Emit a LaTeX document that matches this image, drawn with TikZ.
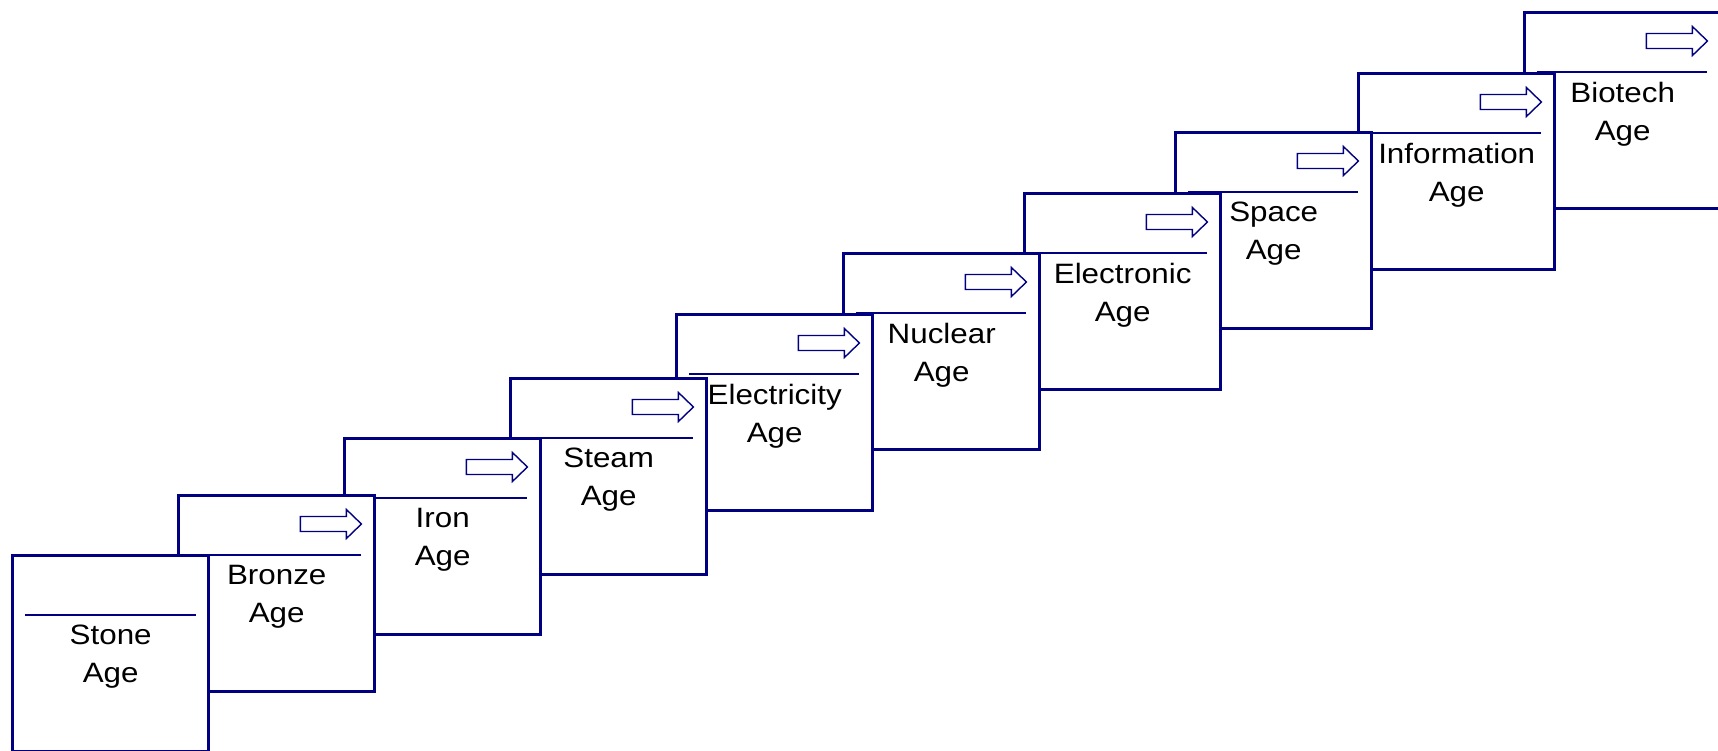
\documentclass[tikz,border=0pt]{standalone}
\usepackage{fontspec}
\setmainfont{Liberation Sans}[FakeStretch=1.12]
\usepackage{xcolor}
\usetikzlibrary{calc}
\definecolor{agenavy}{RGB}{0,0,128}

\begin{document}
\begin{tikzpicture}[x=0.5pt, y=-0.5pt,
    agebox/.style={draw=agenavy, line width=1.7pt, fill=white, anchor=north west, minimum width=98pt, minimum height=98pt, inner sep=0pt},
    ageline/.style={draw=agenavy, line width=0.7pt},
    agearrow/.style={draw=agenavy, line width=0.7pt, fill=white},
    agetext/.style={align=center, font=\fontsize{14pt}{19pt}\selectfont, inner sep=0pt}]
  \useasboundingbox (0,0) rectangle (1718,750);
  % steps, top right first so each lower one lies over it
  \foreach \nm/\x/\y/\lbl in {biotech/1523/11/Biotech, information/1357/72/Information, space/1174/131/Space, electronic/1023/192/Electronic, nuclear/842/252/Nuclear, electricity/675/313/Electricity, steam/509/377/Steam, iron/343/437/Iron, bronze/177/494/Bronze}{
    \node[agebox] (\nm) at (\x,\y) {};
    \draw[ageline] ($(\nm.north west)+(14,61)$) -- ($(\nm.north east)+(-15,61)$);
    \coordinate (\nm-tip) at ($(\nm.north east)+(-15,30)$);
    \draw[agearrow] (\nm-tip) -- ++(-15,-14.5) -- ++(0,7) -- ++(-46,0) -- ++(0,15) -- ++(46,0) -- ++(0,7) -- cycle;
    \node[agetext] (\nm-label) at ($(\nm.north)+(0,103)$) {\lbl\\Age};
  }
  % bottom step, no arrow
  \node[agebox] (stone) at (11,554) {};
  \draw[ageline] ($(stone.north west)+(14,61)$) -- ($(stone.north east)+(-14,61)$);
  \node[agetext] (stone-label) at ($(stone.north)+(0,103)$) {Stone\\Age};
\end{tikzpicture}
\end{document}
